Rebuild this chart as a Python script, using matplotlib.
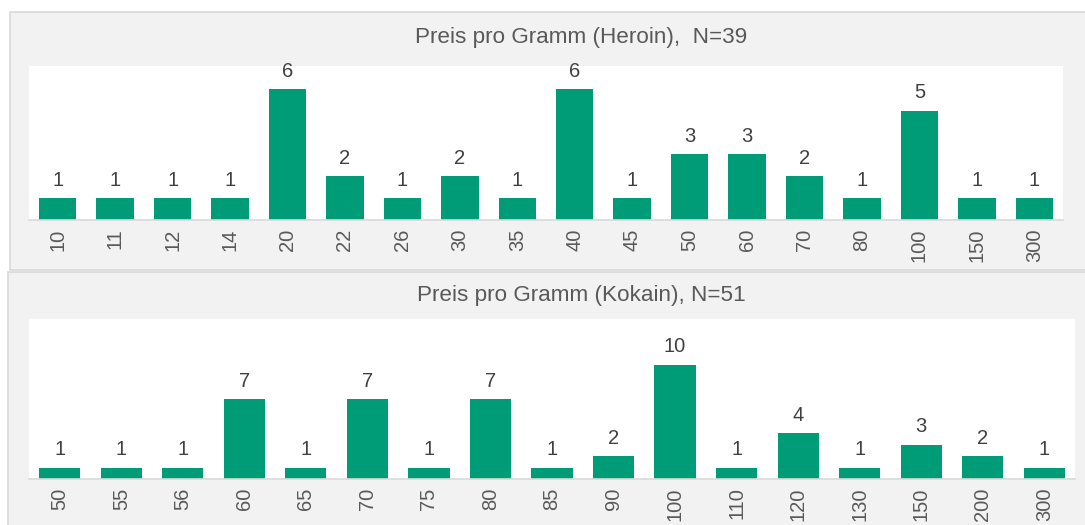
import matplotlib.pyplot as plt
from matplotlib.patches import Rectangle

plt.rcParams["font.family"] = ["Liberation Sans", "DejaVu Sans"]

heroin_prices = ["10", "11", "12", "14", "20", "22", "26", "30", "35", "40",
                 "45", "50", "60", "70", "80", "100", "150", "300"]
heroin_counts = [1, 1, 1, 1, 6, 2, 1, 2, 1, 6, 1, 3, 3, 2, 1, 5, 1, 1]

kokain_prices = ["50", "55", "56", "60", "65", "70", "75", "80", "85", "90",
                 "100", "110", "120", "130", "150", "200", "300"]
kokain_counts = [1, 1, 1, 7, 1, 7, 1, 7, 1, 2, 10, 1, 4, 1, 3, 2, 1]

W, H = 1085, 525
BAR = "#009c78"
PANEL = "#f2f2f2"
BORDER = "#d9d9d9"

fig = plt.figure(figsize=(W / 100, H / 100), dpi=100)
fig.patch.set_facecolor("white")


def px_box(x0, y0, x1, y1):
    # pixel box (top-left origin) -> figure fraction [left, bottom, width, height]
    return [x0 / W, 1 - y1 / H, (x1 - x0) / W, (y1 - y0) / H]


def panel(x0, y0, x1, y1):
    l, b, w, h = px_box(x0, y0, x1, y1)
    fig.patches.append(Rectangle((l, b), w, h, transform=fig.transFigure,
                                 facecolor=PANEL, edgecolor=BORDER,
                                 linewidth=1.2, zorder=-5))


def bar_chart(box, labels, counts, ymax, width, title, title_y):
    ax = fig.add_axes(px_box(*box))
    ax.set_facecolor("white")
    x = range(len(labels))
    bars = ax.bar(x, counts, width=width, color=BAR, zorder=2)
    for b, v in zip(bars, counts):
        ax.annotate(str(v), (b.get_x() + b.get_width() / 2, v),
                    xytext=(0, 6), textcoords="offset points",
                    ha="center", va="bottom", fontsize=14.5, color="#404040")
    ax.set_xlim(-0.5, len(labels) - 0.5)
    ax.set_ylim(0, ymax)
    ax.set_xticks(list(x))
    ax.set_xticklabels(labels, rotation=90, fontsize=14.5, color="#595959")
    ax.tick_params(axis="x", length=0, pad=6)
    ax.set_yticks([])
    for side in ["top", "left", "right"]:
        ax.spines[side].set_visible(False)
    ax.spines["bottom"].set_color(BORDER)
    ax.spines["bottom"].set_linewidth(1.2)
    # chart title sits a little right of the plot centre
    fig.text(581 / W, 1 - title_y / H, title,
             ha="center", va="center", fontsize=16.2, color="#595959")
    return ax


panel(10, 12, W + 5, 270)
panel(8, 272, W + 5, H + 5)

bar_chart((29, 66, 1063, 220), heroin_prices, heroin_counts, 7.05, 0.65,
          "Preis pro Gramm (Heroin),  N=39", 37)
bar_chart((29, 319, 1075, 479), kokain_prices, kokain_counts, 14.0, 0.67,
          "Preis pro Gramm (Kokain), N=51", 296)

fig.savefig("out.png", dpi=100)
